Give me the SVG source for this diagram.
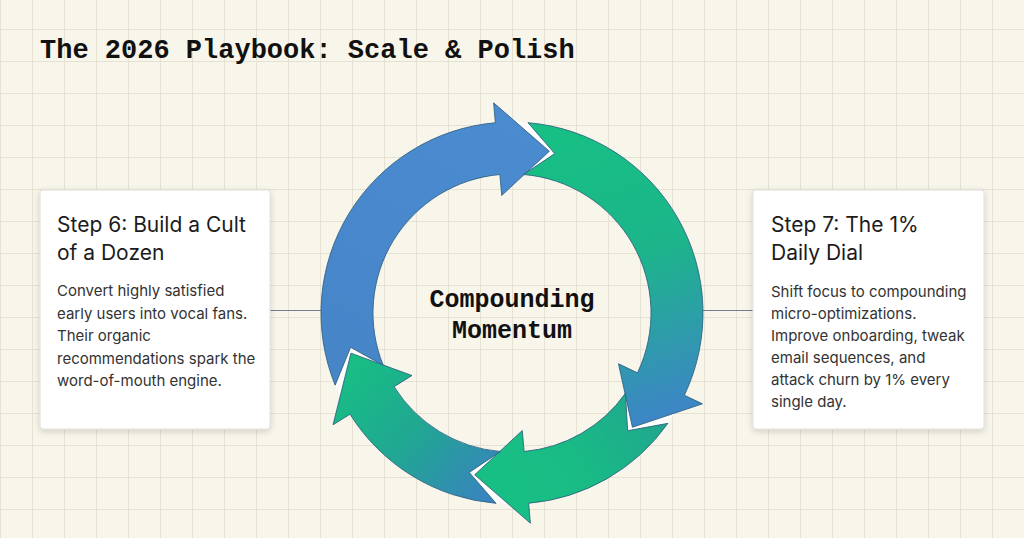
<svg xmlns="http://www.w3.org/2000/svg" width="1024" height="538" viewBox="0 0 1024 538">
<style>
.title{font-family:"Liberation Mono",monospace;font-weight:bold;font-size:27px;fill:#111}
.center{font-family:"Liberation Mono",monospace;font-weight:bold;font-size:25px;fill:#111;text-anchor:middle}
.card{fill:#fff;stroke:#e2e0da;stroke-width:1}
.ct{font-family:Inter,"Noto Sans",sans-serif;font-size:21px;fill:#1c1c1c}
.cb{font-family:Inter,"Noto Sans",sans-serif;font-size:15px;fill:#333}
.halo{fill:#fff;stroke:#fff;stroke-width:7;stroke-linejoin:miter}
.arr{stroke:#2b5f7e;stroke-opacity:.85;stroke-width:1;stroke-linejoin:miter}
.conn{stroke:#6f7f90;stroke-width:1.2;fill:none}
</style>
<defs>
<pattern id="grid" x="0" y="29" width="32" height="32" patternUnits="userSpaceOnUse">
<path d="M0 0.5H32M0.5 0V32" stroke="#e5e1d3" stroke-width="1" fill="none"/>
</pattern>
<filter id="sh" x="-10%" y="-10%" width="120%" height="125%">
<feDropShadow dx="0" dy="2" stdDeviation="3" flood-color="#000" flood-opacity="0.16"/>
</filter>
<clipPath id="ring"><path clip-rule="evenodd" d="M512 122a191 191 0 1 1 0 382a191 191 0 1 1 0-382ZM512 174a139 139 0 1 0 0 278a139 139 0 1 0 0-278Z"/></clipPath>
<linearGradient id="g1" gradientUnits="userSpaceOnUse" x1="380" y1="380" x2="520" y2="110">
<stop offset="0" stop-color="#4685c8"/><stop offset="1" stop-color="#4b8bd0"/></linearGradient>
<linearGradient id="g2" gradientUnits="userSpaceOnUse" x1="560" y1="135" x2="650" y2="420">
<stop offset="0" stop-color="#17bf84"/><stop offset="0.45" stop-color="#1cb58a"/><stop offset="1" stop-color="#3d86c6"/></linearGradient>
<linearGradient id="g3" gradientUnits="userSpaceOnUse" x1="665" y1="410" x2="520" y2="500">
<stop offset="0" stop-color="#21a58f"/><stop offset="0.6" stop-color="#19bb85"/><stop offset="1" stop-color="#18bf84"/></linearGradient>
<linearGradient id="g4" gradientUnits="userSpaceOnUse" x1="495" y1="505" x2="345" y2="375">
<stop offset="0" stop-color="#3b80c3"/><stop offset="0.55" stop-color="#20a792"/><stop offset="1" stop-color="#18bd84"/></linearGradient>
<path id="a1" d="M335.16,385.17A191 191 0 0 1 495.35,122.73L493.61,102.8L549.34,151.25L501.72,195.45L499.88,174.53A139 139 0 0 0 383.3,365.52L350.61,347.31Z"/>
<path id="a2" d="M527.98,122.67A191 191 0 0 1 684.39,395.23L702.45,403.84L632.41,427.27L618.51,363.8L637.46,372.84A139 139 0 0 0 523.63,174.49L554.71,153.62Z"/>
<path id="a3" d="M667.88,423.37A191 191 0 0 1 528.65,503.27L530.39,523.2L474.66,474.75L522.28,430.55L524.12,451.47A139 139 0 0 0 625.44,393.32L627.65,430.69Z"/>
<path id="a4" d="M496.02,503.33A191 191 0 0 1 350.02,414.21L333.06,424.81L350.93,353.16L411.93,375.53L394.12,386.66A139 139 0 0 0 500.37,451.51L469.29,472.38Z"/>
</defs>
<rect width="1024" height="538" fill="#f8f5ea"/>
<rect width="1024" height="538" fill="url(#grid)"/>
<text class="title" x="40" y="58">The 2026 Playbook: Scale &amp; Polish</text>
<g id="connectors">
<line class="conn" x1="270" y1="310.5" x2="322" y2="310.5"/>
<line class="conn" x1="702" y1="310.5" x2="753" y2="310.5"/>
</g>
<g id="cycle">
<g clip-path="url(#ring)">
<use href="#a1" class="halo"/><use href="#a2" class="halo"/><use href="#a3" class="halo"/><use href="#a4" class="halo"/>
</g>
<use id="arrow-1" href="#a1" class="arr" fill="url(#g1)"/>
<use id="arrow-2" href="#a2" class="arr" fill="url(#g2)"/>
<use id="arrow-3" href="#a3" class="arr" fill="url(#g3)"/>
<use id="arrow-4" href="#a4" class="arr" fill="url(#g4)"/>
</g>
<g id="center-label">
<text class="center" x="512" y="307">Compounding</text>
<text class="center" x="512" y="338">Momentum</text>
</g>
<g id="step6">
<rect class="card" x="40" y="190" width="230" height="239" rx="3" filter="url(#sh)"/>
<text class="ct" x="57" y="232">Step 6: Build a Cult</text>
<text class="ct" x="57" y="260">of a Dozen</text>
<text class="cb" x="57" y="296">Convert highly satisfied</text>
<text class="cb" x="57" y="318.5">early users into vocal fans.</text>
<text class="cb" x="57" y="341">Their organic</text>
<text class="cb" x="57" y="363.5">recommendations spark the</text>
<text class="cb" x="57" y="386">word-of-mouth engine.</text>
</g>
<g id="step7">
<rect class="card" x="753" y="190" width="231" height="239" rx="3" filter="url(#sh)"/>
<text class="ct" x="771" y="232">Step 7: The 1%</text>
<text class="ct" x="771" y="260">Daily Dial</text>
<text class="cb" x="771" y="296.5">Shift focus to compounding</text>
<text class="cb" x="771" y="318.5">micro-optimizations.</text>
<text class="cb" x="771" y="341">Improve onboarding, tweak</text>
<text class="cb" x="771" y="363">email sequences, and</text>
<text class="cb" x="771" y="385">attack churn by 1% every</text>
<text class="cb" x="771" y="407">single day.</text>
</g>
</svg>
